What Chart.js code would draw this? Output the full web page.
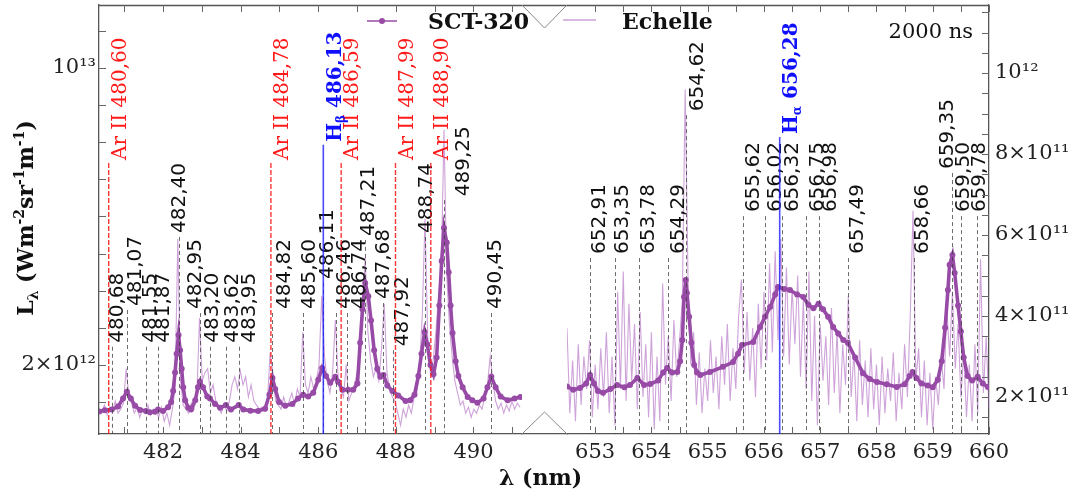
<!DOCTYPE html>
<html><head><meta charset="utf-8">
<script src="https://cdn.jsdelivr.net/npm/chart.js@4/dist/chart.umd.min.js"></script>
<style>html,body{margin:0;padding:0;background:#fff;}canvas{display:block;}</style>
</head><body>
<canvas id="c" width="1079" height="494"></canvas>
<script>
// ===================== DATA =====================
// SCT-320 spectrum, left window (nm) and radiance (x1e12 W m^-2 sr^-1 m^-1)
const sctLeftWl = [480.35,480.50,480.68,480.84,480.97,481.07,481.17,481.28,481.41,481.56,481.66,481.79,481.87,482.00,482.13,482.21,482.26,482.31,482.35,482.40,482.44,482.48,482.52,482.57,482.65,482.72,482.83,482.90,482.95,483.03,483.14,483.21,483.34,483.47,483.62,483.75,483.95,484.07,484.25,484.45,484.63,484.74,484.82,484.89,484.99,485.15,485.33,485.48,485.61,485.74,485.87,486.00,486.10,486.20,486.31,486.44,486.51,486.62,486.77,486.90,487.01,487.08,487.14,487.21,487.29,487.36,487.44,487.52,487.60,487.68,487.78,487.91,488.06,488.25,488.37,488.48,488.58,488.66,488.74,488.81,488.89,488.97,489.05,489.12,489.18,489.24,489.31,489.36,489.41,489.46,489.54,489.61,489.72,489.85,489.97,490.10,490.26,490.36,490.46,490.57,490.70,490.88,491.06,491.21];
const sctLeftI = [0.75,0.78,0.80,0.88,1.10,1.28,1.10,0.90,0.79,0.76,0.73,0.74,0.80,0.76,0.86,1.00,1.30,1.80,2.30,2.81,2.40,1.90,1.40,1.05,0.85,0.80,1.05,1.40,1.55,1.40,1.15,1.10,0.95,0.85,0.92,0.80,0.92,0.80,0.77,0.76,0.82,1.20,1.65,1.35,1.00,0.90,0.95,1.10,1.20,1.15,1.25,1.60,1.92,1.70,1.52,1.68,1.55,1.33,1.33,1.33,1.50,2.60,3.50,4.21,3.85,3.20,2.40,1.90,1.68,1.73,1.45,1.30,1.18,1.03,1.05,1.20,1.70,2.30,2.89,2.55,2.00,1.75,2.20,3.60,4.80,5.69,5.30,4.50,3.60,2.86,2.10,1.70,1.40,1.14,1.05,0.98,1.10,1.40,1.68,1.40,1.15,1.05,1.10,1.14];
// SCT-320 spectrum, right window
const sctRightWl = [652.50,652.61,652.73,652.84,652.91,652.98,653.05,653.14,653.27,653.39,653.52,653.62,653.75,653.87,653.98,654.12,654.21,654.28,654.37,654.46,654.51,654.55,654.58,654.61,654.63,654.67,654.71,654.76,654.81,654.87,655.04,655.27,655.45,655.54,655.61,655.81,655.93,656.02,656.11,656.20,656.25,656.36,656.46,656.59,656.70,656.79,656.88,656.97,657.05,657.14,657.23,657.32,657.41,657.49,657.62,657.76,657.88,658.01,658.18,658.36,658.50,658.59,658.64,658.71,658.80,658.91,659.00,659.09,659.16,659.22,659.27,659.30,659.35,659.39,659.45,659.50,659.55,659.62,659.70,659.80,659.89,659.98];
const sctRightI = [1.42,1.33,1.38,1.50,1.73,1.50,1.30,1.25,1.35,1.46,1.40,1.46,1.65,1.46,1.49,1.58,1.80,1.92,1.80,1.81,2.10,2.67,3.83,4.29,3.94,3.30,2.60,2.00,1.80,1.73,1.81,1.95,2.08,2.30,2.54,2.62,3.02,3.30,3.56,3.90,4.10,4.05,4.02,3.90,3.83,3.62,3.53,3.65,3.50,3.30,3.02,2.85,2.67,2.60,2.20,1.78,1.62,1.54,1.48,1.41,1.48,1.70,1.81,1.65,1.50,1.45,1.40,1.60,2.10,3.00,4.02,4.70,4.96,4.48,3.60,2.90,2.20,1.70,1.58,1.68,1.50,1.41];

// Echelle spectrum (x1e11), sampled on a regular wavelength grid
const echLeftStart = 480.35, echLeftStep = 0.07;
const echLeftI = [1.7,1.6,1.8,1.55,1.75,1.65,1.9,1.6,1.7,1.85,
 2.7,2.0,1.85,1.6,1.75,1.5,1.7,1.6,1.8,1.55,
 1.7,1.65,1.5,1.75,1.4,1.6,1.3,1.7,2.2,5.9,
 2.4,1.8,1.7,1.6,1.85,1.7,2.0,3.95,2.4,2.6,
 2.7,2.1,2.3,1.9,1.75,1.6,1.8,1.65,1.9,2.3,
 2.5,2.2,2.65,2.3,2.5,2.0,2.3,1.9,1.8,1.7,
 1.75,1.65,1.9,3.1,2.6,1.9,1.8,1.7,2.0,1.75,
 1.9,2.1,1.8,2.2,2.0,3.6,2.3,2.1,2.5,2.2,
 2.4,2.8,4.5,3.0,2.4,2.1,2.6,3.9,2.5,2.2,
 2.0,2.8,1.9,2.1,2.3,2.6,3.0,4.0,5.45,3.6,
 2.9,2.5,2.7,2.4,3.2,4.3,2.6,2.2,2.0,1.9,
 1.6,1.3,1.7,1.5,1.8,1.6,2.0,2.1,2.8,4.0,
 6.4,3.5,2.6,2.9,3.6,4.5,5.2,8.6,5.0,3.8,
 3.0,2.4,2.1,1.8,1.9,1.6,1.75,1.5,1.7,1.6,
 1.8,1.7,2.0,2.3,3.0,2.4,1.9,1.7,1.85,1.6,
 1.8,1.65,1.9,1.7,1.85,1.75];
const echRightStart = 652.50, echRightStep = 0.05;
const echRightI = [3.7,1.6,2.9,1.4,3.3,1.8,3.0,2.2,3.4,1.5,
 2.8,1.7,3.2,2.0,3.6,1.6,3.0,1.3,4.6,2.2,
 5.1,1.9,4.3,2.4,3.8,1.7,4.1,2.0,3.3,1.5,
 3.6,1.2,3.0,1.4,4.8,2.3,3.5,1.9,3.9,2.5,
 3.4,4.4,9.6,5.0,2.8,3.6,1.8,3.1,1.6,2.7,
 1.9,3.4,2.1,3.0,1.7,3.5,2.3,3.8,1.9,3.2,
 2.2,4.0,4.9,2.6,4.1,2.4,3.7,2.0,4.3,2.7,
 4.6,2.9,5.3,3.1,5.6,3.4,5.9,3.0,5.2,2.8,
 4.7,3.3,5.0,2.5,4.4,2.2,5.1,1.9,4.0,1.3,
 3.8,2.4,3.5,1.8,4.2,2.1,3.6,1.6,3.3,2.3,
 4.5,2.0,3.1,1.4,3.4,1.8,2.9,1.5,3.2,1.7,
 2.8,1.3,3.0,1.6,2.7,1.9,3.1,1.4,2.6,1.7,
 3.3,2.0,4.0,6.6,2.4,3.2,1.5,2.9,1.3,2.6,
 1.2,2.5,1.8,3.0,2.2,4.2,3.0,4.6,2.7,3.8,
 2.0,3.1,1.5,2.8,1.4,3.3,1.6,5.4,2.1,3.5,
 1.7];

// Identified lines (dashed grey), height of the marker on the left axis (x1e12)
const lineWl  = [480.68,481.07,481.55,481.87,482.40,482.95,483.20,483.62,483.95,484.82,485.60,486.11,486.46,486.74,487.21,487.68,487.92,488.74,489.25,490.45,
                 652.91,653.35,653.78,654.29,654.62,655.62,656.02,656.32,656.75,656.98,657.49,658.66,659.35,659.50,659.78];
const lineTop = [2.49,3.48,2.49,2.49,5.45,3.40,2.49,2.49,2.49,3.40,3.40,4.21,3.40,3.40,5.37,3.67,2.40,5.45,6.44,3.40,
                 4.88,4.88,4.88,4.88,8.73,6.01,6.01,6.01,6.01,6.01,4.88,4.88,7.17,6.01,6.01];
// Ar II lines (red)
const arWl  = [480.60,484.78,486.59,487.99,488.90];
const arTop = [7.44,7.44,7.44,7.44,7.44];
// Hydrogen Balmer lines (blue)
const hWl   = [486.13,656.28];
const hName = ['\u03B2','\u03B1'];
const hTop  = [7.93,8.14];

// Ticks
const xLeftTicks  = [481,482,483,484,485,486,487,488,489,490,491];
const xLeftLabels = [482,484,486,488,490];
const xRightTicks = [653,653.5,654,654.5,655,655.5,656,656.5,657,657.5,658,658.5,659,659.5,660];
const xRightLabels= [653,654,655,656,657,658,659,660];
const yLeftTicks  = [1,2,3,4,5,6,7,8,9,10,11];             // x1e12
const yLeftLabels = {2:'2\u00D710\u00B9\u00B2', 10:'10\u00B9\u00B3'};
const yRightTicks = [1.5,2,2.5,3,3.5,4,4.5,5,5.5,6,6.5,7,7.5,8,8.5,9,9.5,10,10.5,11,11.5]; // x1e11
const yRightLabels= {2:'2\u00D710\u00B9\u00B9',4:'4\u00D710\u00B9\u00B9',6:'6\u00D710\u00B9\u00B9',8:'8\u00D710\u00B9\u00B9',10:'10\u00B9\u00B2'};

// ===================== LAYOUT / STYLE =====================
const labelNudge = [3,6,2,3,-2,-7,0,4,8,10,4,2,6,10,1,-2,7,-1,17,2, 7,5,7,8,9,8,8,8,9,9,7,6,-7,0,0];
const PURPLE = '#974ba6';
const ECH = 'rgba(165,88,185,0.55)';
const FRAME = '#555';
const SERIF = '"DejaVu Serif", serif';
const SANS = '"DejaVu Sans", sans-serif';
const fmt = w => w.toFixed(2).replace('.', ',');

function drawRot(ctx, cx, by, segs, color, center) {
  ctx.save();
  ctx.translate(cx, by);
  ctx.rotate(-Math.PI / 2);
  ctx.fillStyle = color;
  ctx.textBaseline = 'alphabetic';
  ctx.textAlign = 'left';
  let total = 0;
  for (const s of segs) { ctx.font = s.font; total += ctx.measureText(s.t).width; }
  let x = center ? -total / 2 : 0;
  for (const s of segs) {
    ctx.font = s.font;
    ctx.fillText(s.t, x, s.base + (s.dy || 0));
    x += ctx.measureText(s.t).width;
  }
  ctx.restore();
}

const decor = {
  id: 'decor',
  afterDatasetsDraw(chart) {
    const {ctx, chartArea: ca, scales} = chart;
    const y = scales.y;
    const xs = w => (w > 600 ? scales.xR : scales.xL).getPixelForValue(w);
    ctx.save();
    ctx.beginPath(); ctx.rect(ca.left, ca.top, ca.right - ca.left, ca.bottom - ca.top); ctx.clip();
    // grey dashed identified lines
    lineWl.forEach((w, i) => {
      const px = Math.round(xs(w)) + 0.5, py = y.getPixelForValue(lineTop[i] * 1e12);
      ctx.strokeStyle = 'rgba(60,60,60,0.75)'; ctx.lineWidth = 1; ctx.setLineDash([4, 3]);
      ctx.beginPath(); ctx.moveTo(px, py); ctx.lineTo(px, ca.bottom); ctx.stroke();
      ctx.setLineDash([]);
      drawRot(ctx, px + labelNudge[i], py - 4, [{t: fmt(w), font: '20px ' + SANS, base: 7.2}], '#111');
    });
    // Ar II lines
    arWl.forEach((w, i) => {
      const px = xs(w), py = y.getPixelForValue(arTop[i] * 1e12);
      ctx.strokeStyle = 'rgba(255,20,20,0.85)'; ctx.lineWidth = 1.4; ctx.setLineDash([5, 2]);
      ctx.beginPath(); ctx.moveTo(px, py); ctx.lineTo(px, ca.bottom); ctx.stroke();
      ctx.setLineDash([]);
      drawRot(ctx, px + 10, py - 3, [{t: 'Ar II ' + fmt(w), font: '20px ' + SERIF, base: 7.2}], '#ff1a1a');
    });
    // Balmer lines
    hWl.forEach((w, i) => {
      const px = xs(w), py = y.getPixelForValue(hTop[i] * 1e12);
      ctx.strokeStyle = 'rgba(30,30,255,0.8)'; ctx.lineWidth = 1.6;
      ctx.beginPath(); ctx.moveTo(px, py); ctx.lineTo(px, ca.bottom); ctx.stroke();
      drawRot(ctx, px + 10, py - 3, [
        {t: 'H', font: 'bold 20px ' + SERIF, base: 7.2},
        {t: hName[i], font: 'bold 12px ' + SERIF, base: 7.2, dy: 4},
        {t: ' ' + fmt(w), font: 'bold 20px ' + SERIF, base: 7.2}
      ], '#1010ff');
    });
    ctx.restore();

    // legend (white box hides what is behind it)
    ctx.save();
    ctx.fillStyle = '#fff';
    ctx.fillRect(362, 7, 383, 26);
    ctx.strokeStyle = PURPLE; ctx.lineWidth = 1.5;
    ctx.beginPath(); ctx.moveTo(367, 21); ctx.lineTo(397, 21); ctx.stroke();
    ctx.fillStyle = PURPLE; ctx.beginPath(); ctx.arc(382, 21, 3, 0, Math.PI * 2); ctx.fill();
    ctx.strokeStyle = ECH; ctx.lineWidth = 1.3;
    ctx.beginPath(); ctx.moveTo(563, 20); ctx.lineTo(596, 20); ctx.stroke();
    ctx.fillStyle = '#111'; ctx.font = 'bold 22px ' + SERIF; ctx.textBaseline = 'alphabetic'; ctx.textAlign = 'left';
    ctx.fillText(chart.data.datasets[0].label, 428, 29);
    ctx.fillText(chart.data.datasets[2].label, 622, 29);
    ctx.font = '21px ' + SERIF; ctx.textAlign = 'right';
    ctx.fillText('2000 ns', 973, 38);
    ctx.restore();
  },
  afterDraw(chart) {
    const {ctx, chartArea: ca, scales} = chart;
    ctx.save();
    ctx.strokeStyle = FRAME; ctx.lineWidth = 1.3;
    ctx.beginPath(); ctx.moveTo(ca.left, ca.top + 0.5); ctx.lineTo(ca.right, ca.top + 0.5); ctx.stroke();
    ctx.lineWidth = 1; ctx.strokeStyle = '#666';
    const T = 7;
    [scales.xL, scales.xR].forEach(sc => sc.ticks.forEach(t => {
      const p = Math.round(sc.getPixelForValue(t.value)) + 0.5;
      ctx.beginPath(); ctx.moveTo(p, ca.bottom); ctx.lineTo(p, ca.bottom - T);
      ctx.moveTo(p, ca.top); ctx.lineTo(p, ca.top + T); ctx.stroke();
    }));
    scales.y.ticks.forEach(t => {
      const p = Math.round(scales.y.getPixelForValue(t.value)) + 0.5;
      ctx.beginPath(); ctx.moveTo(ca.left, p); ctx.lineTo(ca.left + T, p); ctx.stroke();
    });
    scales.yR.ticks.forEach(t => {
      const p = Math.round(scales.yR.getPixelForValue(t.value)) + 0.5;
      ctx.beginPath(); ctx.moveTo(ca.right, p); ctx.lineTo(ca.right - T, p); ctx.stroke();
    });
    // axis break markers
    const g = scales.xG, mid = (g.left + g.right) / 2;
    ctx.strokeStyle = '#888'; ctx.lineWidth = 1;
    ctx.beginPath(); ctx.moveTo(g.left, ca.top); ctx.lineTo(mid, ca.top + 23); ctx.lineTo(g.right, ca.top); ctx.stroke();
    ctx.beginPath(); ctx.moveTo(g.left, ca.bottom); ctx.lineTo(mid, ca.bottom - 22); ctx.lineTo(g.right, ca.bottom); ctx.stroke();
    // axis titles
    ctx.fillStyle = '#111'; ctx.font = 'bold 22px ' + SERIF; ctx.textAlign = 'center'; ctx.textBaseline = 'alphabetic';
    ctx.fillText('\u03BB (nm)', mid - 4, 485);
    drawRot(ctx, 25, 218, [
      {t: 'L', font: 'bold 22px ' + SERIF, base: 8},
      {t: '\u03BB', font: 'bold 14px ' + SERIF, base: 8, dy: 5},
      {t: ' (Wm', font: 'bold 22px ' + SERIF, base: 8},
      {t: '-2', font: 'bold 14px ' + SERIF, base: 8, dy: -9},
      {t: 'sr', font: 'bold 22px ' + SERIF, base: 8},
      {t: '-1', font: 'bold 14px ' + SERIF, base: 8, dy: -9},
      {t: 'm', font: 'bold 22px ' + SERIF, base: 8},
      {t: '-1', font: 'bold 14px ' + SERIF, base: 8, dy: -9},
      {t: ')', font: 'bold 22px ' + SERIF, base: 8}
    ], '#111', true);
    ctx.restore();
  }
};

const tickFont = {family: 'DejaVu Serif', size: 21};
const noGrid = {display: false, drawTicks: false};
const border = {display: true, color: FRAME, width: 1.3};
const fitY = w => s => { s.width = w; s.paddingTop = 0; s.paddingBottom = 0; };
const fitX = s => { s.height = 60; s.paddingLeft = 0; s.paddingRight = 0; };

new Chart(document.getElementById('c').getContext('2d'), {
  type: 'line',
  data: {datasets: [
    {label: 'SCT-320', data: sctLeftWl.map((w, i) => ({x: w, y: sctLeftI[i] * 1e12})), xAxisID: 'xL', yAxisID: 'y',
     borderColor: PURPLE, backgroundColor: PURPLE, borderWidth: 3.6, pointRadius: 3, pointBorderWidth: 0, tension: 0},
    {label: 'SCT-320', data: sctRightWl.map((w, i) => ({x: w, y: sctRightI[i] * 1e12})), xAxisID: 'xR', yAxisID: 'y',
     borderColor: PURPLE, backgroundColor: PURPLE, borderWidth: 3.6, pointRadius: 3, pointBorderWidth: 0, tension: 0},
    {label: 'Echelle', data: echLeftI.map((v, i) => ({x: echLeftStart + i * echLeftStep, y: v * 1e11})), xAxisID: 'xL', yAxisID: 'yR',
     borderColor: ECH, borderWidth: 1.1, pointRadius: 0, tension: 0},
    {label: 'Echelle', data: echRightI.map((v, i) => ({x: echRightStart + i * echRightStep, y: v * 1e11})), xAxisID: 'xR', yAxisID: 'yR',
     borderColor: ECH, borderWidth: 1.1, pointRadius: 0, tension: 0}
  ]},
  options: {
    responsive: false, animation: false, devicePixelRatio: 1,
    layout: {padding: {top: 5, left: 0, right: 0, bottom: 0}},
    plugins: {legend: {display: false}, tooltip: {enabled: false}},
    scales: {
      xL: {type: 'linear', axis: 'x', position: 'bottom', stack: 'x', stackWeight: 423, min: 480.35, max: 491.25,
           afterBuildTicks: s => { s.ticks = xLeftTicks.map(v => ({value: v})); },
           ticks: {autoSkip: false, maxRotation: 0, padding: 6, font: tickFont, color: '#222',
                   callback: v => xLeftLabels.includes(v) ? String(v) : ''},
           grid: noGrid, border, afterFit: fitX},
      xG: {type: 'linear', axis: 'x', position: 'bottom', stack: 'x', stackWeight: 45, min: 0, max: 1,
           ticks: {display: false}, grid: noGrid, border, afterFit: fitX},
      xR: {type: 'linear', axis: 'x', position: 'bottom', stack: 'x', stackWeight: 422, min: 652.5, max: 660,
           afterBuildTicks: s => { s.ticks = xRightTicks.map(v => ({value: v})); },
           ticks: {autoSkip: false, maxRotation: 0, padding: 6, font: tickFont, color: '#222',
                   callback: v => xRightLabels.includes(v) ? String(v) : ''},
           grid: noGrid, border, afterFit: fitX},
      y: {type: 'linear', axis: 'y', position: 'left', min: 0.141e12, max: 1.1697e13,
          afterBuildTicks: s => { s.ticks = yLeftTicks.map(v => ({value: v * 1e12})); },
          ticks: {autoSkip: false, padding: 3, font: tickFont, color: '#222',
                  callback: v => yLeftLabels[Math.round(v / 1e12)] || ''},
          grid: noGrid, border, afterFit: fitY(99)},
      yR: {type: 'linear', axis: 'y', position: 'right', min: 1.086e11, max: 1.168e12,
           afterBuildTicks: s => { s.ticks = yRightTicks.map(v => ({value: v * 1e11})); },
           ticks: {autoSkip: false, padding: 6, font: tickFont, color: '#222',
                   callback: v => { const k = Math.round(v / 1e10) / 10; return yRightLabels[k] || ''; }},
           grid: noGrid, border, afterFit: fitY(90)}
    }
  },
  plugins: [decor]
});
</script>
</body></html>
